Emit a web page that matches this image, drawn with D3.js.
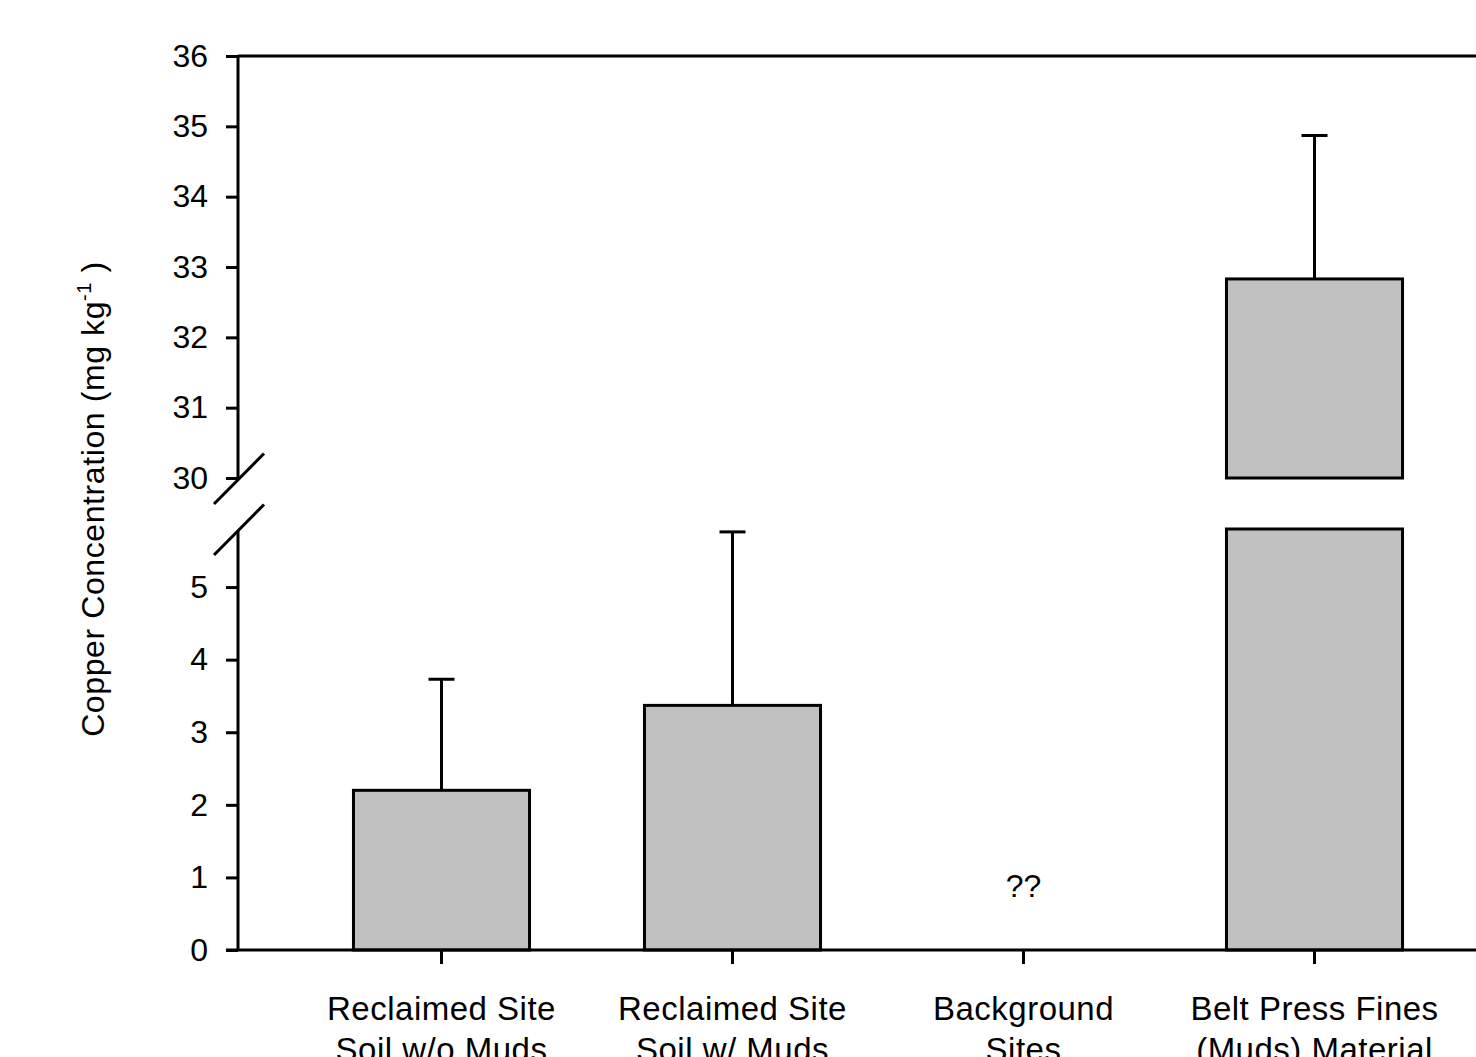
<!DOCTYPE html>
<html>
<head>
<meta charset="utf-8">
<script src="https://cdn.jsdelivr.net/npm/d3@7"></script>
<style>
  body { margin: 0; background: #fff; }
  text { font-family: "Liberation Sans", Arial, sans-serif; fill: #000; }
</style>
</head>
<body>
<svg id="chart"></svg>
<script>
// data
var categories = ["reclaimedNoMuds", "reclaimedMuds", "background", "beltPress"];
var catLabels = [
  ["Reclaimed Site", "Soil w/o Muds"],
  ["Reclaimed Site", "Soil w/ Muds"],
  ["Background", "Sites"],
  ["Belt Press Fines", "(Muds) Material"]
];
var means = [2.2, 3.37, null, 32.83];
var errUp = [1.53, 2.39, null, 2.04];
var noDataText = "??";
var lowTicks = [0, 1, 2, 3, 4, 5];
var highTicks = [30, 31, 32, 33, 34, 35, 36];
var lowDomain = [0, 5.8];
var highDomain = [30, 36];

var width = 1476, height = 1057;
var axisX = 238;
var lineW = 3;

var svg = d3.select("#chart")
    .attr("width", width)
    .attr("height", height);

var x = d3.scaleBand()
    .domain(categories)
    .range([296, 1460])
    .padding(0);
var barW = x.step() * 0.605;

var yLow = d3.scaleLinear().domain(lowDomain).range([950, 529]);
var yHigh = d3.scaleLinear().domain(highDomain).range([478, 56]);

function cx(c) { return x(c) + x.bandwidth() / 2; }

// bars (broken where they cross the gap)
var bars = svg.append("g");
categories.forEach(function(c, i) {
  var v = means[i];
  if (v == null) return;
  var left = cx(c) - barW / 2;
  if (v <= lowDomain[1]) {
    bars.append("rect")
      .attr("x", left).attr("width", barW)
      .attr("y", yLow(v)).attr("height", yLow(0) - yLow(v));
  } else {
    bars.append("rect")
      .attr("x", left).attr("width", barW)
      .attr("y", yLow(lowDomain[1])).attr("height", yLow(0) - yLow(lowDomain[1]));
    bars.append("rect")
      .attr("x", left).attr("width", barW)
      .attr("y", yHigh(v)).attr("height", yHigh(highDomain[0]) - yHigh(v));
  }
});
bars.selectAll("rect")
  .attr("fill", "#c0c0c0")
  .attr("stroke", "#000")
  .attr("stroke-width", lineW);

// error bars, upward only
var errs = svg.append("g").attr("stroke", "#000").attr("stroke-width", lineW);
categories.forEach(function(c, i) {
  var v = means[i];
  if (v == null) return;
  var y = v <= lowDomain[1] ? yLow : yHigh;
  var top = y(v + errUp[i]);
  errs.append("line")
    .attr("x1", cx(c)).attr("x2", cx(c))
    .attr("y1", y(v)).attr("y2", top);
  errs.append("line")
    .attr("x1", cx(c) - 13).attr("x2", cx(c) + 13)
    .attr("y1", top).attr("y2", top);
});

// no-data marker
categories.forEach(function(c, i) {
  if (means[i] != null) return;
  svg.append("text")
    .attr("x", cx(c))
    .attr("y", yLow(0.73))
    .attr("text-anchor", "middle")
    .style("font-size", "32px")
    .text(noDataText);
});

// y axes
function styleAxis(g) {
  g.selectAll("path, line").attr("stroke", "#000").attr("stroke-width", lineW);
  g.selectAll("text").style("font-size", "32px").attr("fill", "#000");
  g.attr("font-family", null);
}

svg.append("g")
  .attr("transform", "translate(" + axisX + ",0)")
  .call(d3.axisLeft(yLow).tickValues(lowTicks).tickFormat(d3.format("d"))
    .tickSize(12).tickSizeOuter(0).tickPadding(18))
  .call(styleAxis)
  .select(".domain").attr("d", "M0," + (yLow(lowDomain[1]) + 2) + "V" + yLow(0));

svg.append("g")
  .attr("transform", "translate(" + axisX + ",0)")
  .call(d3.axisLeft(yHigh).tickValues(highTicks).tickFormat(d3.format("d"))
    .tickSize(12).tickSizeOuter(0).tickPadding(18))
  .call(styleAxis)
  .select(".domain").attr("d", "M0," + yHigh(highDomain[1]) + "V" + (yHigh(highDomain[0]) + 2));

// top frame line
svg.append("line")
  .attr("x1", axisX).attr("x2", width)
  .attr("y1", yHigh(highDomain[1])).attr("y2", yHigh(highDomain[1]))
  .attr("stroke", "#000").attr("stroke-width", lineW);

// break marks
[yHigh(highDomain[0]) + 1.5, yLow(lowDomain[1]) + 1.5].forEach(function(yb) {
  svg.append("line")
    .attr("x1", axisX - 24).attr("y1", yb + 24.5)
    .attr("x2", axisX + 26).attr("y2", yb - 26)
    .attr("stroke", "#000").attr("stroke-width", lineW);
});

// x axis
var xAxis = svg.append("g")
  .attr("transform", "translate(0," + yLow(0) + ")")
  .call(d3.axisBottom(x).tickSize(14).tickSizeOuter(0).tickFormat(""));
xAxis.select(".domain").remove();
xAxis.selectAll("line").attr("stroke", "#000").attr("stroke-width", lineW);
svg.append("line")
  .attr("x1", axisX - 12).attr("x2", width)
  .attr("y1", yLow(0)).attr("y2", yLow(0))
  .attr("stroke", "#000").attr("stroke-width", lineW);

// category labels
categories.forEach(function(c, i) {
  var t = svg.append("text")
    .attr("text-anchor", "middle")
    .style("font-size", "33px")
    .style("letter-spacing", "0.5px");
  catLabels[i].forEach(function(line, j) {
    t.append("tspan")
      .attr("x", cx(c))
      .attr("y", 1020 + j * 41)
      .text(line);
  });
});

// y title
var title = svg.append("text")
  .attr("transform", "translate(104,499) rotate(-90)")
  .attr("text-anchor", "middle")
  .style("font-size", "32px")
  .style("letter-spacing", "0.6px");
title.append("tspan").text("Copper Concentration (mg kg");
title.append("tspan").attr("dy", -13).style("font-size", "20px").text("-1");
title.append("tspan").attr("dy", 13).text(" )");
</script>
</body>
</html>
